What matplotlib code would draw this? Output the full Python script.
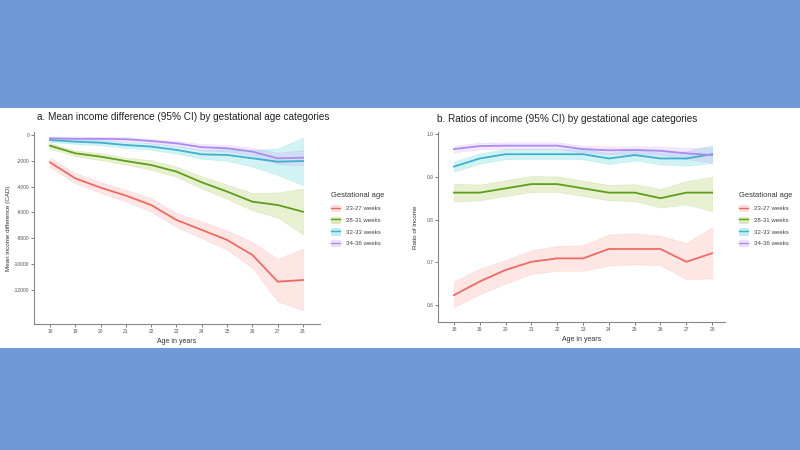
import matplotlib
matplotlib.use("Agg")
import matplotlib.pyplot as plt
from matplotlib.patches import Rectangle, Patch
from matplotlib.lines import Line2D

plt.rcParams['font.family'] = ['Liberation Sans', 'DejaVu Sans']

ages = [18, 19, 20, 21, 22, 23, 24, 25, 26, 27, 28]
groups = ["23-27 weeks", "28-31 weeks", "32-33 weeks", "34-36 weeks"]
colors = ["#F8766D", "#7CAE00", "#00BFC4", "#C77CFF"]
line_colors = ["#F06A62", "#5E9E1A", "#3FB0CF", "#A98CF0"]

# Panel a: mean income difference (CAD)
a_red = [-2120, -3360, -4080, -4700, -5430, -6590, -7360, -8140, -9300, -11370, -11240]
a_red_lo = [-2500, -3750, -4500, -5150, -5950, -7150, -8000, -8900, -10300, -12900, -13600]
a_red_hi = [-1750, -2950, -3650, -4250, -4900, -6050, -6700, -7400, -8300, -9600, -8800]
a_green = [-830, -1420, -1680, -2020, -2330, -2840, -3670, -4390, -5170, -5430, -5950]
a_green_lo = [-1050, -1650, -1950, -2300, -2700, -3250, -4150, -4950, -5850, -6400, -7700]
a_green_hi = [-600, -1200, -1400, -1750, -1950, -2450, -3200, -3850, -4500, -4450, -4150]
a_cyan = [-390, -520, -600, -780, -900, -1160, -1500, -1550, -1810, -2070, -2020]
a_cyan_lo = [-550, -700, -800, -1000, -1150, -1450, -1850, -2000, -2450, -3100, -3900]
a_cyan_hi = [-230, -340, -400, -560, -650, -870, -1150, -1100, -1170, -1050, -200]
a_purple = [-260, -300, -300, -330, -470, -650, -950, -1030, -1290, -1810, -1760]
a_purple_lo = [-400, -450, -450, -500, -650, -850, -1200, -1300, -1600, -2250, -2350]
a_purple_hi = [-120, -150, -150, -160, -290, -450, -700, -760, -980, -1370, -1170]
a_yticks = [0, -2000, -4000, -6000, -8000, -10000, -12000]

# Panel b: ratio of income
b_red = [0.623, 0.655, 0.682, 0.701, 0.709, 0.709, 0.731, 0.731, 0.731, 0.701, 0.721]
b_red_lo = [0.595, 0.625, 0.650, 0.672, 0.680, 0.680, 0.692, 0.695, 0.693, 0.660, 0.662]
b_red_hi = [0.655, 0.685, 0.705, 0.728, 0.738, 0.740, 0.765, 0.768, 0.762, 0.745, 0.782]
b_green = [0.863, 0.863, 0.873, 0.883, 0.883, 0.873, 0.863, 0.863, 0.850, 0.863, 0.863]
b_green_lo = [0.842, 0.845, 0.855, 0.864, 0.865, 0.855, 0.845, 0.843, 0.828, 0.835, 0.820]
b_green_hi = [0.884, 0.882, 0.892, 0.902, 0.901, 0.891, 0.881, 0.883, 0.872, 0.890, 0.900]
b_cyan = [0.924, 0.943, 0.953, 0.953, 0.953, 0.953, 0.943, 0.951, 0.943, 0.943, 0.953]
b_cyan_lo = [0.912, 0.931, 0.941, 0.942, 0.942, 0.941, 0.930, 0.938, 0.929, 0.926, 0.932]
b_cyan_hi = [0.936, 0.955, 0.965, 0.965, 0.965, 0.965, 0.956, 0.964, 0.957, 0.960, 0.974]
b_purple = [0.965, 0.972, 0.973, 0.973, 0.973, 0.965, 0.962, 0.963, 0.961, 0.955, 0.951]
b_purple_lo = [0.957, 0.964, 0.965, 0.965, 0.965, 0.957, 0.953, 0.954, 0.951, 0.942, 0.933]
b_purple_hi = [0.973, 0.980, 0.981, 0.981, 0.981, 0.973, 0.971, 0.972, 0.971, 0.968, 0.969]
b_yticks = [1.0, 0.9, 0.8, 0.7, 0.6]
b_yticklabels = ["1.0", "0.9", "0.8", "0.7", "0.6"]

fig = plt.figure(figsize=(8, 4.5), dpi=100)
fig.patch.set_facecolor("#6E9BD8")
fig.add_artist(Rectangle((0, 1 - 348 / 450), 1, (348 - 108) / 450,
                         transform=fig.transFigure, facecolor="white",
                         edgecolor="none", zorder=0))

axA = fig.add_axes([34 / 800, 1 - 324 / 450, (320 - 34) / 800, (324 - 132) / 450])
axB = fig.add_axes([438 / 800, 1 - 322 / 450, (725 - 438) / 800, (322 - 132) / 450])

a_series = [(a_red, a_red_lo, a_red_hi), (a_green, a_green_lo, a_green_hi),
            (a_cyan, a_cyan_lo, a_cyan_hi), (a_purple, a_purple_lo, a_purple_hi)]
b_series = [(b_red, b_red_lo, b_red_hi), (b_green, b_green_lo, b_green_hi),
            (b_cyan, b_cyan_lo, b_cyan_hi), (b_purple, b_purple_lo, b_purple_hi)]

for ax, series in ((axA, a_series), (axB, b_series)):
    ax.set_facecolor("white")
    for (m, lo, hi), c, lc in zip(series, colors, line_colors):
        ax.fill_between(ages, lo, hi, color=c, alpha=0.18, linewidth=0.4,
                        edgecolor=c)
        ax.plot(ages, m, color=lc, linewidth=1.3)
    for s in ("top", "right"):
        ax.spines[s].set_visible(False)
    for s in ("left", "bottom"):
        ax.spines[s].set_color("#888888")
        ax.spines[s].set_linewidth(0.8)
    ax.set_xticks(ages)
    ax.set_xticklabels([str(a) for a in ages])
    ax.tick_params(axis="both", labelsize=3.5, colors="#666666", length=2, width=0.6,
                   labelcolor="#555555", pad=1.5)
    ax.set_xlabel("Age in years", fontsize=5, color="#333333", labelpad=3)

axA.set_xlim(17.37, 28.67)
axA.set_ylim(-14650, 230)
axA.set_yticks(a_yticks)
axA.set_yticklabels([str(v) for v in a_yticks])
axA.set_ylabel("Mean income difference (CAD)", fontsize=4.5, color="#333333", labelpad=2)

axB.set_xlim(17.38, 28.5)
axB.set_ylim(0.56, 1.005)
axB.set_yticks(b_yticks)
axB.set_yticklabels(b_yticklabels)
axB.set_ylabel("Ratio of income", fontsize=4.5, color="#333333", labelpad=6)

fig.text(37 / 800, 1 - 117 / 450, "a. Mean income difference (95% CI) by gestational age categories",
         fontsize=7.2, color="#222222", va="center", ha="left")
fig.text(437 / 800, 1 - 119 / 450, "b. Ratios of income (95% CI) by gestational age categories",
         fontsize=7.2, color="#222222", va="center", ha="left")

handles = [(Patch(facecolor=c, alpha=0.25, edgecolor=c, linewidth=0.4),
            Line2D([], [], color=lc, linewidth=1.0))
           for c, lc in zip(colors, line_colors)]

for x0 in (331 / 800, 739 / 800):
    fig.text(x0, 1 - 196 / 450, "Gestational age", fontsize=5.4, color="#333333",
             ha="left", va="center")
    leg = fig.legend(handles, groups, loc="upper left", bbox_to_anchor=(x0, 1 - 205 / 450),
                     frameon=False, fontsize=4.4, handlelength=1.5, handleheight=1.25,
                     labelspacing=0.85, borderpad=0, borderaxespad=0, handletextpad=0.9)
    for t in leg.get_texts():
        t.set_color("#444444")

fig.savefig("out.png", dpi=100, facecolor=fig.get_facecolor())
